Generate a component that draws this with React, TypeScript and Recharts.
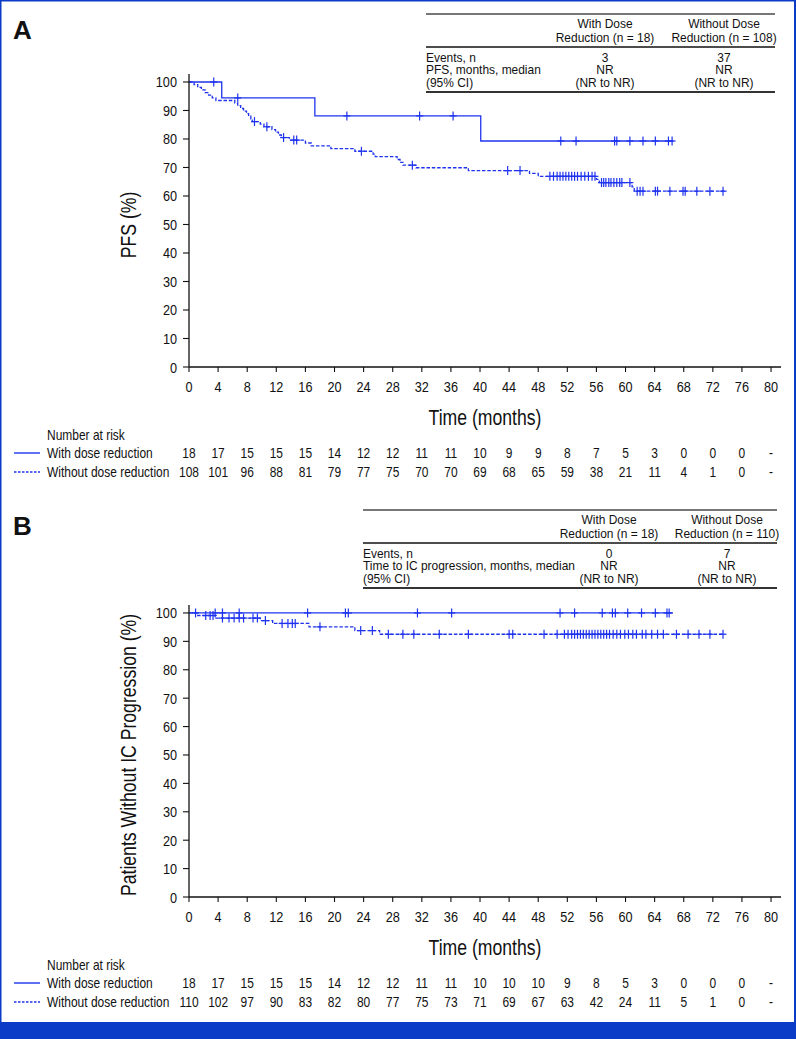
import React from 'react';
import { ComposedChart, Line, Scatter, XAxis, YAxis } from 'recharts';

const FONT = "'Liberation Sans', Arial, Helvetica, sans-serif";
const BLUE = '#1f33ee';
const INK = '#111';
const SQUEEZE = 0.82; // condensed look, like the reference's narrow face

const timeTicks = [0, 4, 8, 12, 16, 20, 24, 28, 32, 36, 40, 44, 48, 52, 56, 60, 64, 68, 72, 76, 80];
const pctTicks = [0, 10, 20, 30, 40, 50, 60, 70, 80, 90, 100];

// Panel A — PFS
const aWithTimes = [0, 4.5, 17.3, 40.1, 66.6];
const aWithValues = [100, 94.4, 88.1, 79.3, 79.3];
const aWithCensors = [3.4, 6.7, 21.7, 31.7, 36.3, 51.1, 53.2, 58.5, 58.8, 60.6, 62.4, 64.1, 65.9, 66.4];

const aWithoutTimes = [0, 0.7, 1.2, 1.7, 2.2, 2.7, 3.2, 3.7, 6.3, 6.7, 7.1, 7.5, 7.9, 8.2, 8.5, 8.7, 9.8, 10.3, 11.4, 11.9, 12.3, 12.7, 13.8, 16.0, 16.8, 19.5, 22.8, 25.3, 25.6, 28.6, 29.0, 29.4, 31.2, 38.4, 46.8, 48.0, 56.0, 56.4, 60.9, 61.2, 73.9];
const aWithoutValues = [100, 99.1, 98.1, 97.2, 96.3, 95.4, 94.4, 93.5, 92.6, 91.7, 90.7, 89.8, 88.9, 88.0, 87.0, 86.1, 85.2, 84.3, 83.3, 82.4, 81.4, 80.5, 79.6, 78.6, 77.6, 76.6, 75.7, 74.7, 73.8, 72.8, 71.8, 70.8, 69.9, 68.9, 67.9, 66.9, 65.8, 64.7, 63.2, 61.7, 61.7];
const aWithoutCensors = [9.0, 10.7, 13.0, 14.4, 14.8, 23.7, 30.7, 43.8, 45.5, 49.6, 50.1, 50.6, 51.0, 51.4, 51.8, 52.2, 52.6, 53.0, 53.4, 53.9, 54.4, 54.9, 55.4, 55.8, 56.7, 57.0, 57.3, 57.7, 58.0, 58.4, 58.8, 59.2, 59.5, 60.6, 61.6, 62.0, 62.4, 64.1, 64.4, 66.1, 67.9, 68.2, 69.8, 71.6, 73.4];

const aRiskWith = [18, 17, 15, 15, 15, 14, 12, 12, 11, 11, 10, 9, 9, 8, 7, 5, 3, 0, 0, 0, null];
const aRiskWithout = [108, 101, 96, 88, 81, 79, 77, 75, 70, 70, 69, 68, 65, 59, 38, 21, 11, 4, 1, 0, null];

// Panel B — IC progression
const bWithTimes = [0, 66.5];
const bWithValues = [100, 100];
const bWithCensors = [3.6, 4.6, 6.9, 16.3, 21.5, 21.9, 31.4, 36.1, 51.0, 53.0, 56.8, 58.2, 58.6, 60.3, 62.2, 64.1, 65.7, 66.0];

const bWithoutTimes = [0, 1.2, 3.7, 9.8, 11.5, 16.5, 22.8, 26.2, 73.6];
const bWithoutValues = [100, 99.1, 98.2, 97.3, 96.3, 95.1, 93.8, 92.5, 92.5];
const bWithoutCensors = [0.9, 2.3, 2.9, 3.3, 4.6, 5.5, 6.2, 6.9, 7.5, 8.8, 9.4, 10.5, 12.8, 13.6, 14.2, 14.6, 18.0, 23.6, 25.2, 27.4, 29.4, 30.9, 34.4, 38.4, 44.0, 44.5, 48.8, 50.6, 51.6, 52.1, 52.6, 53.0, 53.4, 53.8, 54.2, 54.6, 55.0, 55.4, 55.8, 56.2, 56.6, 57.0, 57.4, 57.8, 58.3, 58.8, 59.3, 59.9, 60.4, 61.0, 61.5, 62.3, 62.8, 63.6, 64.4, 65.2, 67.0, 68.6, 70.1, 71.6, 73.4];

const bRiskWith = [18, 17, 15, 15, 15, 14, 12, 12, 11, 11, 10, 10, 10, 9, 8, 5, 3, 0, 0, 0, null];
const bRiskWithout = [110, 102, 97, 90, 83, 82, 80, 77, 75, 73, 71, 69, 67, 63, 42, 24, 11, 5, 1, 0, null];

function levelAt(times: number[], values: number[], t: number) {
  let v = values[0];
  for (let i = 0; i < times.length; i++) if (times[i] <= t) v = values[i];
  return v;
}
const stepData = (times: number[], values: number[]) => times.map((t, i) => ({ t, s: values[i] }));
const censorData = (times: number[], values: number[], cens: number[]) =>
  cens.map((t) => ({ t, s: levelAt(times, values, t) }));

// condensed text: real <text>, squeezed horizontally
const CT = (p: { x: number; y: number; size: number; anchor?: 'start' | 'middle' | 'end'; rotate?: number; sq?: number; children: any }) => (
  <text
    x={0}
    y={0}
    transform={`translate(${p.x} ${p.y})${p.rotate ? ` rotate(${p.rotate})` : ''} scale(${p.sq ?? SQUEEZE} 1)`}
    fontFamily={FONT}
    fontSize={p.size}
    textAnchor={p.anchor || 'start'}
    fill={INK}
  >
    {p.children}
  </text>
);

const CensorMark = (props: any) => {
  const { cx, cy } = props;
  if (cx == null || cy == null) return null;
  return (
    <g stroke={BLUE} strokeWidth={1.2}>
      <line x1={cx} y1={cy - 4.5} x2={cx} y2={cy + 4.5} />
      <line x1={cx - 3.5} y1={cy} x2={cx + 3.5} y2={cy} />
    </g>
  );
};

const fmt = (v: number | null) => (v == null ? '-' : String(v));

const makeXTick = (rowWith: (number | null)[], rowWithout: (number | null)[]) => (props: any) => {
  const { x, payload } = props;
  const i = timeTicks.indexOf(payload.value);
  return (
    <g>
      <CT x={x} y={391.5} size={15.5} anchor="middle">{payload.value}</CT>
      <CT x={x} y={458} size={14.6} anchor="middle">{fmt(rowWith[i])}</CT>
      <CT x={x} y={477} size={14.6} anchor="middle">{fmt(rowWithout[i])}</CT>
    </g>
  );
};

const YTick = (props: any) => {
  const { x, y, payload } = props;
  return <CT x={x} y={y + 5.5} size={15.5} anchor="end">{payload.value}</CT>;
};

type PanelProps = {
  top: number;
  marginTop: number;
  withT: number[]; withV: number[]; withC: number[];
  woT: number[]; woV: number[]; woC: number[];
  riskWith: (number | null)[]; riskWithout: (number | null)[];
};

const Panel = (p: PanelProps) => (
  <div style={{ position: 'absolute', left: 0, top: p.top }}>
    <ComposedChart width={796} height={500} margin={{ top: p.marginTop, right: 15, bottom: 0, left: 129 }}>
      <XAxis
        type="number"
        dataKey="t"
        domain={[0, 81.37]}
        ticks={timeTicks}
        interval={0}
        height={133}
        tickSize={5}
        axisLine={{ stroke: INK, strokeWidth: 1.3 }}
        tickLine={{ stroke: INK, strokeWidth: 1.1 }}
        tick={makeXTick(p.riskWith, p.riskWithout)}
      />
      <YAxis
        type="number"
        dataKey="s"
        domain={[0, 102.8]}
        ticks={pctTicks}
        interval={0}
        width={60}
        tickSize={6}
        tickMargin={6}
        axisLine={{ stroke: INK, strokeWidth: 1.3 }}
        tickLine={{ stroke: INK, strokeWidth: 1.1 }}
        tick={YTick}
      />
      <Line data={stepData(p.woT, p.woV)} dataKey="s" type="stepAfter" stroke={BLUE} strokeWidth={1.3}
        strokeDasharray="3.5 1.8" dot={false} activeDot={false} isAnimationActive={false} />
      <Line data={stepData(p.withT, p.withV)} dataKey="s" type="stepAfter" stroke={BLUE} strokeWidth={1.3}
        dot={false} activeDot={false} isAnimationActive={false} />
      <Scatter data={censorData(p.woT, p.woV, p.woC)} dataKey="s" shape={CensorMark} isAnimationActive={false} />
      <Scatter data={censorData(p.withT, p.withV, p.withC)} dataKey="s" shape={CensorMark} isAnimationActive={false} />
    </ComposedChart>
  </div>
);

const TS = 14.6;
const TB = 12.2; // summary-table text
const TQ = 0.98;

const SummaryTable = (p: { x1: number; x2: number; c1: number; c2: number; top: number; n1: string; n2: string; ev1: string; ev2: string; label: string }) => {
  const y = p.top;
  return (
    <g>
      <line x1={p.x1} x2={p.x2} y1={y} y2={y} stroke="#777" strokeWidth={2} />
      <CT x={p.c1} y={y + 13.5} size={TB} sq={TQ} anchor="middle">With Dose</CT>
      <CT x={p.c1} y={y + 27.5} size={TB} sq={TQ} anchor="middle">{`Reduction (n = ${p.n1})`}</CT>
      <CT x={p.c2} y={y + 13.5} size={TB} sq={TQ} anchor="middle">Without Dose</CT>
      <CT x={p.c2} y={y + 27.5} size={TB} sq={TQ} anchor="middle">{`Reduction (n = ${p.n2})`}</CT>
      <line x1={p.x1} x2={p.x2} y1={y + 33} y2={y + 33} stroke={INK} strokeWidth={1.3} />
      <CT x={p.x1} y={y + 47.5} size={TB} sq={TQ}>Events, n</CT>
      <CT x={p.c1} y={y + 47.5} size={TB} sq={TQ} anchor="middle">{p.ev1}</CT>
      <CT x={p.c2} y={y + 47.5} size={TB} sq={TQ} anchor="middle">{p.ev2}</CT>
      <CT x={p.x1} y={y + 60} size={TB} sq={TQ}>{p.label}</CT>
      <CT x={p.c1} y={y + 60} size={TB} sq={TQ} anchor="middle">NR</CT>
      <CT x={p.c2} y={y + 60} size={TB} sq={TQ} anchor="middle">NR</CT>
      <CT x={p.x1} y={y + 73} size={TB} sq={TQ}>(95% CI)</CT>
      <CT x={p.c1} y={y + 73} size={TB} sq={TQ} anchor="middle">(NR to NR)</CT>
      <CT x={p.c2} y={y + 73} size={TB} sq={TQ} anchor="middle">(NR to NR)</CT>
      <line x1={p.x1} x2={p.x2} y1={y + 78} y2={y + 78} stroke="#333" strokeWidth={2} />
    </g>
  );
};

const RiskLabels = ({ top }: { top: number }) => (
  <g>
    <CT x={47} y={top + 440} size={TS}>Number at risk</CT>
    <line x1={14} x2={40} y1={top + 453} y2={top + 453} stroke={BLUE} strokeWidth={1.4} />
    <CT x={47} y={top + 458} size={TS}>With dose reduction</CT>
    <line x1={14} x2={40} y1={top + 472} y2={top + 472} stroke={BLUE} strokeWidth={1.4} strokeDasharray="2.5 1.5" />
    <CT x={47} y={top + 477} size={TS}>Without dose reduction</CT>
    <CT x={485} y={top + 425} size={21.5} anchor="middle">Time (months)</CT>
  </g>
);

export default function App() {
  return (
    <div style={{ position: 'absolute', left: 0, top: 0, width: 796, height: 1039, background: '#fff', overflow: 'hidden' }}>
      <Panel top={0} marginTop={74}
        withT={aWithTimes} withV={aWithValues} withC={aWithCensors}
        woT={aWithoutTimes} woV={aWithoutValues} woC={aWithoutCensors}
        riskWith={aRiskWith} riskWithout={aRiskWithout} />
      <Panel top={530} marginTop={75}
        withT={bWithTimes} withV={bWithValues} withC={bWithCensors}
        woT={bWithoutTimes} woV={bWithoutValues} woC={bWithoutCensors}
        riskWith={bRiskWith} riskWithout={bRiskWithout} />
      <svg width={796} height={1039} style={{ position: 'absolute', left: 0, top: 0, pointerEvents: 'none' }}>
        <text x={13} y={39} fontFamily={FONT} fontSize={26} fontWeight="bold" fill={INK}>A</text>
        <text x={13} y={535} fontFamily={FONT} fontSize={26} fontWeight="bold" fill={INK}>B</text>
        <SummaryTable x1={426} x2={775} c1={605} c2={724} top={14} n1="18" n2="108" ev1="3" ev2="37" label="PFS, months, median" />
        <SummaryTable x1={363} x2={777} c1={609} c2={727} top={510} n1="18" n2="110" ev1="0" ev2="7" label="Time to IC progression, months, median" />
        <CT x={136} y={225} size={21.5} anchor="middle" rotate={-90}>PFS (%)</CT>
        <CT x={136} y={755} size={21.5} anchor="middle" rotate={-90}>Patients Without IC Progression (%)</CT>
        <RiskLabels top={0} />
        <RiskLabels top={530} />
        <rect x={0} y={0} width={796} height={1.5} fill="#0b3cc8" />
        <rect x={0} y={0} width={1.5} height={1039} fill="#0b3cc8" />
        <rect x={794} y={0} width={2} height={1039} fill="#0b3cc8" />
        <rect x={0} y={1022} width={796} height={17} fill="#0b3cc8" />
      </svg>
    </div>
  );
}
